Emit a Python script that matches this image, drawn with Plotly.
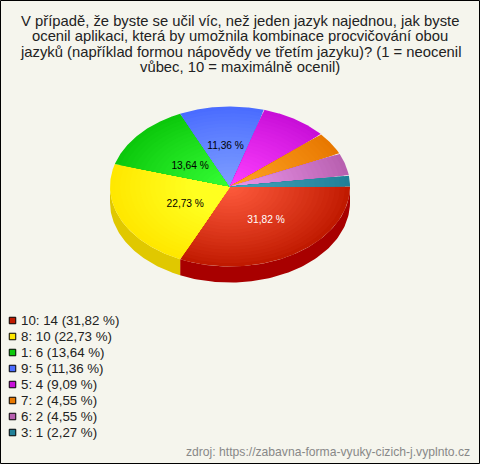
import numpy as np
import plotly.graph_objects as go

TITLE_LINES = [
    "V případě, že byste se učil víc, než jeden jazyk najednou, jak byste",
    "ocenil aplikaci, která by umožnila kombinace procvičování obou",
    "jazyků (například formou nápovědy ve třetím jazyku)? (1 = neocenil",
    "vůbec, 10 = maximálně ocenil)",
]
FOOTER = "zdroj: https://zabavna-forma-vyuky-cizich-j.vyplnto.cz"
categories = ["10", "8", "1", "9", "5", "7", "6", "3"]
counts = [14, 10, 6, 5, 4, 2, 2, 1]
percents = ["31,82", "22,73", "13,64", "11,36", "9,09", "4,55", "4,55", "2,27"]
labelled = [True, True, True, True, False, False, False, False]
label_colors = ["white", "black", "black", "black", "black", "black", "black", "black"]
edge_colors = ["#c01a00", "#ffe800", "#0cc80c", "#4a6cff", "#c80fd8", "#e87800", "#b860b0", "#208098"]
center_colors = ["#ff5c3e", "#ffff20", "#36ff36", "#80a0ff", "#ff40ff", "#ffa424", "#ec98ec", "#44a4bc"]
wall_colors = ["#a80000", "#e0c800", "#0aa00a", "#3a50c0", "#a00cb0", "#b86000", "#904c8c", "#186478"]

BG = "#f5f5ed"
CX, CY, RX, RY, DEPTH = 230, 186.5, 120, 80, 16
RINGS = 24
LABEL_RADIUS = [(0.555, 0.50), (0.41, 0.53), (0.44, 0.38), (0.51, 0.50)]


def hex_rgb(h):
    return np.array([int(h[i:i + 2], 16) for i in (1, 3, 5)], dtype=float)


def mix(a, b, t):
    c = hex_rgb(a) * (1 - t) + hex_rgb(b) * t
    return "rgb(%d,%d,%d)" % tuple(np.round(c))


fig = go.Figure()
total = sum(counts)
fractions = np.cumsum([0] + counts) / total
angles = fractions * 2 * np.pi


def add_poly(xs, ys, color):
    fig.add_trace(go.Scatter(x=xs, y=ys, mode="lines", fill="toself", fillcolor=color,
                             line=dict(width=0, color=color), hoverinfo="skip", showlegend=False))


# side wall
for i in range(len(counts)):
    a0, a1 = angles[i], min(angles[i + 1], np.pi)
    if a0 >= a1:
        continue
    t = np.linspace(a0, a1, 80)
    xs = CX + RX * np.cos(t)
    ys = CY + RY * np.sin(t)
    add_poly(np.r_[xs, xs[::-1]], np.r_[ys, ys[::-1] + DEPTH], wall_colors[i])

# top face: concentric wedges for the radial shading
for i in range(len(counts)):
    t = np.linspace(angles[i], angles[i + 1], 100)
    for k in range(RINGS):
        f = 1 - k / RINGS
        xs = np.r_[CX, CX + f * RX * np.cos(t), CX]
        ys = np.r_[CY, CY + f * RY * np.sin(t), CY]
        add_poly(xs, ys, mix(edge_colors[i], center_colors[i], min(1, 1.5 * (1 - f)) if i == 1 else (1 - f) ** 0.9))

# percent labels
for i in range(len(counts)):
    if labelled[i]:
        mid = (angles[i] + angles[i + 1]) / 2
        fx, fy = LABEL_RADIUS[i]
        fig.add_trace(go.Scatter(
            x=[CX + fx * RX * np.cos(mid)], y=[CY + fy * RY * np.sin(mid)],
            mode="text", text=[percents[i] + " %"], textposition="middle center",
            textfont=dict(family="Liberation Sans", size=10.2, color=label_colors[i]),
            hoverinfo="skip", showlegend=False))

# legend
for i, c in enumerate(categories):
    y = 320 + 16 * i
    fig.add_trace(go.Scatter(x=[12.5], y=[y + 0.5], mode="markers",
                             marker=dict(symbol="square", size=6.5, color=edge_colors[i],
                                         line=dict(color="black", width=1)),
                             hoverinfo="skip", showlegend=False))
    fig.add_annotation(x=19, y=y + 0.5, xref="x", yref="y", xanchor="left", yanchor="middle",
                       text=f"{c}: {counts[i]} ({percents[i]} %)", showarrow=False,
                       font=dict(family="Liberation Sans", size=13.3, color="#222222"))

for i, line in enumerate(TITLE_LINES):
    fig.add_annotation(x=240, y=20.5 + 15.5 * i, xref="x", yref="y", xanchor="center", yanchor="middle",
                       text=line, showarrow=False,
                       font=dict(family="Liberation Sans", size=14.8, color="#222222"))

fig.add_annotation(x=471.5, y=452, xref="x", yref="y", xanchor="right", yanchor="middle",
                   text=FOOTER, showarrow=False,
                   font=dict(family="Liberation Sans", size=12.15, color="#888888"))

fig.add_shape(type="rect", xref="x", yref="y", x0=0.5, y0=0.5, x1=479.5, y1=463.5,
              line=dict(color="black", width=1), fillcolor="rgba(0,0,0,0)")

fig.update_layout(
    width=480, height=464, margin=dict(l=0, r=0, t=0, b=0), autosize=False,
    paper_bgcolor=BG, plot_bgcolor=BG,
    xaxis=dict(range=[0, 480], visible=False, fixedrange=True),
    yaxis=dict(range=[464, 0], visible=False, fixedrange=True),
    showlegend=False,
)
fig.write_html("out.html", config={"displayModeBar": False},
               post_script="document.body.style.margin='0';document.body.style.overflow='hidden';")
